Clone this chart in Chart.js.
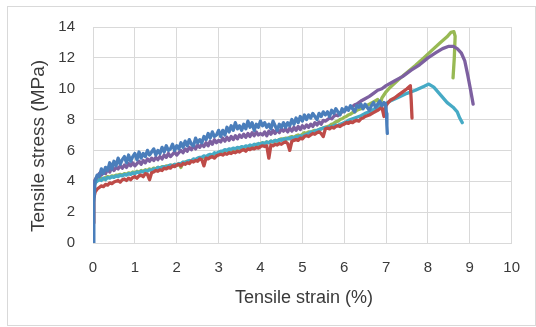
<!DOCTYPE html>
<html>
<head>
<meta charset="utf-8">
<script src="https://cdn.jsdelivr.net/npm/chart.js@4/dist/chart.umd.min.js"></script>
<style>
  html, body { margin: 0; padding: 0; background: #ffffff; }
  #wrap { position: relative; width: 536px; height: 327px; }
</style>
</head>
<body>
<div id="wrap"><canvas id="chart" width="536" height="327"></canvas></div>
<script>
// Axis ticks
const strainTicks = [0, 1, 2, 3, 4, 5, 6, 7, 8, 9, 10];
const stressTicks = [0, 2, 4, 6, 8, 10, 12, 14];

// Shared strain sampling (%) for the serrated part of each test
const strainGrid = [0, 0.02, 0.05,
  0.1, 0.15, 0.2, 0.25, 0.3, 0.35, 0.4, 0.45, 0.5, 0.55,
  0.6, 0.65, 0.7, 0.75, 0.8, 0.85, 0.9, 0.95, 1.0, 1.05,
  1.1, 1.15, 1.2, 1.25, 1.3, 1.35, 1.4, 1.45, 1.5, 1.55,
  1.6, 1.65, 1.7, 1.75, 1.8, 1.85, 1.9, 1.95, 2.0, 2.05,
  2.1, 2.15, 2.2, 2.25, 2.3, 2.35, 2.4, 2.45, 2.5, 2.55,
  2.6, 2.65, 2.7, 2.75, 2.8, 2.85, 2.9, 2.95, 3.0, 3.05,
  3.1, 3.15, 3.2, 3.25, 3.3, 3.35, 3.4, 3.45, 3.5, 3.55,
  3.6, 3.65, 3.7, 3.75, 3.8, 3.85, 3.9, 3.95, 4.0, 4.05,
  4.1, 4.15, 4.2, 4.25, 4.3, 4.35, 4.4, 4.45, 4.5, 4.55,
  4.6, 4.65, 4.7, 4.75, 4.8, 4.85, 4.9, 4.95, 5.0, 5.05,
  5.1, 5.15, 5.2, 5.25, 5.3, 5.35, 5.4, 5.45, 5.5, 5.55,
  5.6, 5.65, 5.7, 5.75, 5.8, 5.85, 5.9, 5.95, 6.0, 6.05,
  6.1, 6.15, 6.2, 6.25, 6.3, 6.35, 6.4];

// Stress (MPa) on strainGrid, then the end of each curve up to failure
const blueStress = [0, 2.6, 4.0,
  4.4, 4.3, 4.8, 4.5, 4.9, 4.7, 5.2, 4.8, 5.3, 5.0,
  5.5, 5.1, 5.4, 5.6, 5.2, 5.7, 5.3, 5.6, 5.8, 5.4,
  5.9, 5.5, 5.8, 5.6, 6.0, 5.7, 5.9, 6.1, 5.7, 6.0,
  5.8, 6.2, 5.9, 6.3, 6.0, 6.1, 6.4, 6.0, 6.3, 6.1,
  6.5, 6.2, 6.6, 6.3, 6.7, 6.4, 6.3, 6.8, 6.5, 6.7,
  6.5, 6.9, 6.7, 7.1, 6.8, 7.2, 6.9, 7.0, 7.3, 6.9,
  7.3, 7.0, 7.5, 7.2, 7.6, 7.3, 7.8, 7.4, 7.6, 7.3,
  7.7, 7.4, 7.9, 7.5, 7.8, 7.3, 7.7, 7.5, 7.9, 7.6,
  7.8, 7.5, 7.7, 7.4, 7.9, 7.6, 7.3, 7.7, 7.5, 7.8,
  7.5, 7.8, 7.6, 8.0, 7.7, 8.1, 7.8, 8.2, 7.9, 8.3,
  8.0, 8.3, 8.1, 8.4, 8.2, 8.0, 8.4, 8.2, 8.5, 8.3,
  8.5, 8.2, 8.6, 8.4, 8.7, 8.5, 8.3, 8.7, 8.5, 8.8,
  8.6, 8.9, 8.7, 8.5, 8.9, 8.8, 9.0];
const blueEndStrain = [6.45, 6.5, 6.55, 6.6, 6.65, 6.7, 6.75, 6.8, 6.85, 6.9, 6.95, 6.99, 7.01, 7.02, 7.03];
const blueEndStress = [8.7, 9.0, 8.8, 8.6, 8.9, 9.1, 8.8, 9.0, 9.2, 8.9, 9.1, 9.0, 8.4, 7.6, 7.1];

const redStress = [1.3, 2.9, 3.3,
  3.5, 3.6, 3.7, 3.65, 3.8, 3.75, 3.9, 3.85, 3.95, 4.0,
  4.05, 3.95, 4.1, 4.15, 4.05, 4.2, 4.1, 4.25, 4.3, 4.2,
  4.35, 4.4, 4.3, 4.5, 4.45, 4.1, 4.55, 4.6, 4.7, 4.65,
  4.75, 4.7, 4.85, 4.8, 4.9, 4.85, 5.0, 4.95, 5.05, 5.1,
  5.0, 5.15, 5.1, 5.2, 5.15, 5.3, 5.25, 5.35, 5.3, 5.45,
  5.4, 5.0, 5.5, 5.45, 5.55, 5.6, 5.5, 5.65, 5.7, 5.75,
  5.7, 5.8, 5.75, 5.85, 5.8, 5.9, 5.85, 5.95, 5.9, 6.0,
  6.05, 5.95, 6.1, 6.05, 6.15, 6.1, 6.2, 6.15, 6.25, 6.3,
  6.25, 6.3, 5.5, 6.35, 6.3, 6.4, 6.35, 6.45, 6.4, 6.5,
  6.55, 6.45, 6.0, 6.6, 6.65, 6.7, 6.65, 6.8, 6.75, 6.9,
  6.95, 6.9, 7.0, 7.1, 7.05, 7.15, 7.2, 7.1, 6.9, 7.4,
  7.45, 7.4, 7.5, 7.45, 7.55, 7.6, 7.55, 7.65, 7.7, 7.8,
  7.75, 7.85, 7.8, 7.9, 7.95, 7.9, 8.05];
const redEndStrain = [6.45, 6.5, 6.6, 6.7, 6.8, 6.9, 6.95, 7.0, 7.05, 7.1, 7.2, 7.3, 7.4, 7.5, 7.58, 7.6, 7.62];
const redEndStress = [8.1, 8.2, 8.3, 8.45, 8.6, 8.8, 8.2, 8.9, 9.1, 9.25, 9.4, 9.6, 9.8, 10.0, 10.2, 9.3, 8.1];

const greenStress = [3.2, 3.6, 3.9,
  4.1, 4.15, 4.2, 4.15, 4.25, 4.3, 4.25, 4.35, 4.3, 4.4,
  4.4, 4.45, 4.4, 4.5, 4.45, 4.55, 4.5, 4.6, 4.55, 4.65,
  4.6, 4.7, 4.65, 4.75, 4.7, 4.8, 4.75, 4.85, 4.8, 4.9,
  4.85, 4.95, 4.9, 5.0, 4.95, 5.05, 5.0, 5.1, 5.05, 5.15,
  4.9, 5.2, 5.25, 5.3, 5.25, 5.35, 5.4, 5.35, 5.45, 5.5,
  5.5, 5.55, 5.6, 5.55, 5.65, 5.7, 5.75, 5.8, 5.85, 5.9,
  5.9, 5.95, 6.0, 5.95, 6.05, 6.0, 6.1, 6.05, 6.15, 6.2,
  6.15, 6.25, 6.2, 6.3, 6.25, 6.35, 6.4, 6.35, 6.45, 6.5,
  6.45, 6.55, 6.5, 6.6, 6.55, 6.65, 6.6, 6.7, 6.75, 6.7,
  6.8, 6.75, 6.85, 6.9, 6.85, 6.95, 7.0, 6.95, 7.05, 7.15,
  7.1, 7.2, 7.15, 7.25, 7.3, 7.25, 7.35, 7.4, 7.45, 7.5,
  7.55, 7.6, 7.7, 7.75, 7.85, 7.9, 8.0, 8.05, 8.15, 8.2,
  8.3, 8.35, 8.45, 8.5, 8.6, 8.65, 8.7];
const greenEndStrain = [6.5, 6.6, 6.7, 6.8, 6.85, 6.9, 7.0, 7.1, 7.3, 7.5, 7.7, 7.9, 8.1, 8.3, 8.45, 8.55, 8.62, 8.65, 8.63, 8.6];
const greenEndStress = [8.85, 9.0, 9.15, 9.3, 8.8, 9.4, 9.8, 10.1, 10.6, 11.05, 11.5, 12.0, 12.5, 13.0, 13.35, 13.65, 13.7, 13.4, 12.0, 10.7];

const purpleStress = [3.4, 3.9, 4.1,
  4.3, 4.5, 4.4, 4.7, 4.5, 4.8, 4.6, 4.9, 4.7, 4.9,
  4.8, 5.0, 4.85, 5.05, 4.9, 5.15, 5.0, 5.2, 5.0, 5.15,
  5.3, 5.1, 5.35, 5.2, 5.45, 5.3, 5.5, 5.35, 5.55, 5.4,
  5.6, 5.45, 5.7, 5.55, 5.8, 5.6, 5.75, 5.9, 5.7, 5.85,
  6.0, 5.85, 6.1, 5.95, 6.2, 6.05, 6.3, 6.1, 6.35, 6.2,
  6.4, 6.25, 6.5, 6.3, 6.6, 6.4, 6.7, 6.5, 6.65, 6.55,
  6.8, 6.6, 6.85, 6.65, 6.9, 6.7, 6.95, 6.75, 7.0, 6.85,
  7.05, 6.85, 7.1, 6.9, 7.15, 6.95, 7.2, 7.0, 7.1, 7.0,
  7.2, 6.95, 7.25, 7.05, 7.3, 7.1, 7.35, 7.15, 7.4, 7.25,
  7.4, 7.2, 7.45, 7.25, 7.5, 7.3, 7.55, 7.35, 7.6, 7.45,
  7.65, 7.5, 7.7, 7.55, 7.8, 7.65, 7.85, 7.7, 7.95, 7.9,
  8.0, 8.1, 8.05, 8.2, 8.3, 8.25, 8.4, 8.5, 8.55, 8.65,
  8.7, 8.8, 8.85, 8.95, 9.0, 9.1, 9.2];
const purpleEndStrain = [6.5, 6.6, 6.7, 6.8, 6.9, 7.0, 7.2, 7.4, 7.6, 7.8, 8.0, 8.2, 8.35, 8.5, 8.6, 8.7, 8.8, 8.88, 8.95, 9.02, 9.08];
const purpleEndStress = [9.35, 9.5, 9.7, 9.9, 10.0, 10.2, 10.5, 10.8, 11.2, 11.55, 12.0, 12.35, 12.6, 12.75, 12.75, 12.6, 12.3, 11.8, 10.9, 9.9, 9.0];

const cyanStress = [3.3, 3.7, 3.9,
  4.0, 4.1, 4.05, 4.2, 4.1, 4.25, 4.2, 4.3, 4.25, 4.35,
  4.3, 4.4, 4.35, 4.45, 4.4, 4.5, 4.45, 4.55, 4.5, 4.6,
  4.55, 4.65, 4.6, 4.7, 4.65, 4.75, 4.7, 4.8, 4.75, 4.9,
  4.85, 4.9, 4.95, 4.9, 5.0, 5.05, 5.0, 5.1, 5.05, 5.15,
  5.15, 5.25, 5.2, 5.3, 5.35, 5.3, 5.45, 5.4, 5.5, 5.55,
  5.55, 5.65, 5.6, 5.7, 5.75, 5.7, 5.85, 5.8, 5.9, 5.95,
  5.95, 6.05, 6.0, 6.1, 6.05, 6.15, 6.1, 6.2, 6.15, 6.25,
  6.2, 6.3, 6.25, 6.35, 6.3, 6.4, 6.35, 6.45, 6.4, 6.5,
  6.45, 6.55, 6.5, 6.6, 6.55, 6.65, 6.6, 6.7, 6.65, 6.75,
  6.7, 6.8, 6.75, 6.85, 6.8, 6.9, 6.85, 6.95, 6.9, 7.0,
  7.05, 7.1, 7.2, 7.15, 7.25, 7.3, 7.35, 7.4, 7.45, 7.5,
  7.45, 7.55, 7.5, 7.6, 7.65, 7.6, 7.7, 7.75, 7.8, 7.85,
  7.95, 8.0, 8.05, 8.1, 8.15, 8.2, 8.25];
const cyanEndStrain = [6.5, 6.6, 6.7, 6.8, 6.9, 7.0, 7.1, 7.3, 7.5, 7.7, 7.9, 8.02, 8.14, 8.3, 8.46, 8.6, 8.7, 8.76, 8.82];
const cyanEndStress = [8.4, 8.5, 8.65, 8.8, 8.95, 9.05, 9.2, 9.45, 9.7, 9.9, 10.15, 10.3, 10.1, 9.6, 9.1, 8.8, 8.5, 8.1, 7.8];

function curve(stress, endStrain, endStress) {
  const pts = strainGrid.map((x, i) => ({ x: x, y: stress[i] }));
  endStrain.forEach((x, i) => pts.push({ x: x, y: endStress[i] }));
  return pts;
}

function series(label, color, pts) {
  return {
    label: label,
    data: pts,
    showLine: true,
    borderColor: color,
    backgroundColor: color,
    borderWidth: 3.3,
    pointRadius: 0,
    tension: 0,
    borderJoinStyle: 'round',
    borderCapStyle: 'round'
  };
}

const TEXT = '#3a3a3a';
const FONT = '"Liberation Sans", Arial, sans-serif';

// Frame around the whole chart plus the two axis titles
const decor = {
  id: 'decor',
  beforeDraw(chart) {
    const c = chart.ctx;
    c.save();
    c.strokeStyle = '#d9d9d9';
    c.lineWidth = 1;
    c.strokeRect(7.5, 6.5, 528, 319);
    c.restore();
  },
  afterDraw(chart) {
    const c = chart.ctx;
    c.save();
    c.fillStyle = TEXT;
    c.textAlign = 'center';
    c.textBaseline = 'middle';
    c.font = '18px ' + FONT;
    c.fillText('Tensile strain (%)', 304, 298);
    c.translate(39, 146);
    c.rotate(-Math.PI / 2);
    c.font = '19px ' + FONT;
    c.fillText('Tensile stress (MPa)', 0, 0);
    c.restore();
  }
};

new Chart(document.getElementById('chart'), {
  type: 'scatter',
  data: {
    datasets: [
      series('Sample 1', '#4a7ebb', curve(blueStress, blueEndStrain, blueEndStress)),
      series('Sample 2', '#be4b48', curve(redStress, redEndStrain, redEndStress)),
      series('Sample 4', '#7d60a0', curve(purpleStress, purpleEndStrain, purpleEndStress)),
      series('Sample 5', '#46aac5', curve(cyanStress, cyanEndStrain, cyanEndStress)),
      series('Sample 3', '#98b954', curve(greenStress, greenEndStrain, greenEndStress))
    ]
  },
  options: {
    responsive: false,
    animation: false,
    devicePixelRatio: 1,
    layout: { padding: { top: 26, right: 21, left: 0, bottom: 0 } },
    plugins: { legend: { display: false }, tooltip: { enabled: false } },
    scales: {
      x: {
        type: 'linear',
        min: 0, max: 10,
        afterBuildTicks: s => { s.ticks = strainTicks.map(v => ({ value: v })); },
        afterFit: s => { s.height = 84; },
        grid: { color: '#d9d9d9', lineWidth: 1, drawTicks: false },
        border: { color: '#d9d9d9', width: 1 },
        ticks: { color: TEXT, padding: 16, font: { family: FONT, size: 15 } }
      },
      y: {
        type: 'linear',
        min: 0, max: 14,
        afterBuildTicks: s => { s.ticks = stressTicks.map(v => ({ value: v })); },
        afterFit: s => { s.width = 93; },
        grid: { color: '#d9d9d9', lineWidth: 1, drawTicks: false },
        border: { color: '#d9d9d9', width: 1 },
        ticks: { color: TEXT, padding: 18, font: { family: FONT, size: 15 } }
      }
    }
  },
  plugins: [decor]
});
</script>
</body>
</html>
